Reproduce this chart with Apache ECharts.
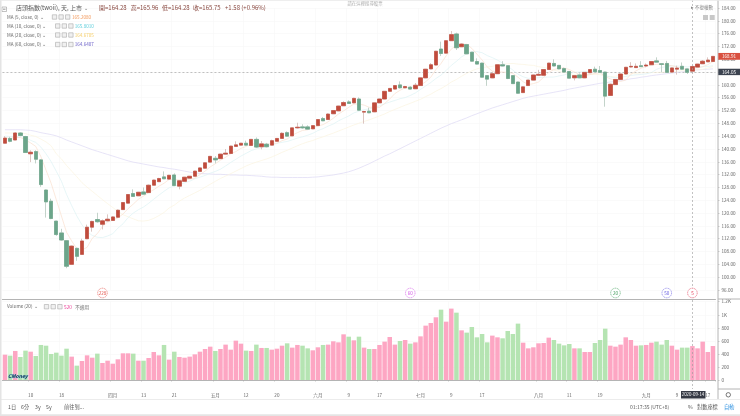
<!DOCTYPE html>
<html><head><meta charset="utf-8">
<script src="https://cdn.jsdelivr.net/npm/echarts@6/dist/echarts.min.js"></script>
<style>html,body{margin:0;padding:0;background:#fff}#c{width:740px;height:416px;filter:blur(0.3px)}</style>
</head><body><div id="c"></div>
<script>
const opens=[141.8,143.3,142.8,145.0,143.9,138.5,139.2,136.6,127.2,123.7,117.5,113.8,111.4,104.0,109.0,107.1,112.0,115.6,118.0,116.5,117.6,117.7,118.7,121.1,123.1,126.1,125.4,126.6,126.4,128.7,129.8,131.3,130.6,131.9,128.4,129.9,130.9,131.5,133.0,134.0,135.9,137.1,137.0,138.4,138.6,140.8,141.2,141.8,141.1,143.0,140.7,141.5,141.2,142.4,143.3,145.1,144.1,146.6,146.9,146.9,146.3,147.3,149.5,149.2,151.0,151.9,153.5,154.7,154.4,155.6,151.5,151.8,151.6,154.4,155.6,158.0,158.7,160.0,159.1,159.3,158.8,159.8,162.2,165.0,166.2,171.2,169.9,173.8,175.9,171.9,172.6,170.2,167.3,166.8,162.9,162.2,163.5,166.3,166.0,162.9,160.9,157.6,159.8,161.5,163.0,163.0,164.8,166.7,166.1,165.1,164.2,162.2,163.1,162.2,163.8,164.9,164.5,164.0,156.7,160.1,161.7,163.4,165.6,165.4,166.0,165.9,166.3,167.5,166.6,166.7,164.0,164.9,165.8,165.0,164.28,165.55,166.6,167.2,167.3];
const closes=[143.4,142.4,145.0,144.2,138.9,139.0,136.8,128.9,123.5,118.3,113.3,111.6,103.4,109.7,106.5,111.3,115.6,117.4,117.3,117.6,118.1,118.8,120.9,123.3,125.8,125.2,126.5,125.9,128.7,130.3,130.8,130.7,131.8,128.6,130.1,131.2,131.5,133.1,134.1,135.7,137.7,136.6,138.4,138.7,140.9,141.3,141.8,141.2,143.0,140.6,141.6,140.7,142.6,143.3,144.9,144.0,146.6,146.8,146.6,146.2,147.3,149.2,148.8,150.9,152.0,153.4,154.5,154.2,155.8,152.1,151.7,151.3,154.4,155.6,158.0,158.9,159.8,159.1,159.5,158.7,159.9,162.2,164.9,166.3,170.5,169.8,173.8,175.7,171.6,172.75,169.7,167.4,166.5,162.4,161.8,163.5,166.3,165.9,162.0,160.4,157.4,159.4,161.5,163.1,163.3,164.8,166.8,165.9,165.0,164.0,162.1,162.9,162.2,163.9,164.8,164.1,163.9,156.5,160.2,161.7,163.4,165.5,165.8,165.8,165.7,166.2,167.3,167.1,166.4,163.9,165.3,165.25,164.9,163.9,165.75,166.5,167.4,167.75,168.9];
const highs=[144.0,143.8,145.3,145.3,144.1,139.6,139.6,136.8,127.3,124.5,117.6,115.1,111.6,109.9,109.2,112.0,116.4,117.6,120.1,118.0,119.6,119.0,121.1,123.4,125.9,127.4,126.6,128.0,128.9,130.4,131.0,133.0,131.9,132.4,130.3,131.3,131.6,133.2,134.2,135.8,137.8,137.8,138.5,140.0,141.0,142.4,141.9,142.6,143.1,143.6,142.5,141.9,142.9,143.4,145.2,145.5,146.7,148.2,147.7,147.4,147.4,149.3,150.0,151.1,152.1,153.5,154.9,155.2,156.0,156.1,151.9,152.9,154.5,155.7,158.1,159.0,159.9,161.1,159.7,159.6,160.6,162.3,165.0,166.8,170.6,173.5,173.9,176.8,176.3,173.0,172.7,170.3,168.3,166.9,163.1,164.1,166.4,167.4,166.1,163.0,161.0,159.6,161.6,163.2,164.7,164.9,166.9,168.0,166.2,165.4,164.3,163.0,163.6,164.0,164.9,165.7,165.9,164.1,160.4,161.8,163.5,165.6,167.1,166.7,167.4,166.7,167.4,168.6,166.7,167.5,165.4,166.0,167.0,165.1,165.96,166.6,167.75,168.6,168.8];
const lows=[141.7,142.1,142.8,144.0,138.8,135.9,135.5,128.2,118.6,118.1,112.9,111.4,102.8,103.9,105.1,107.0,111.9,114.2,117.0,114.9,117.4,117.6,118.6,121.0,123.0,125.1,125.3,125.8,126.3,128.6,129.7,130.6,130.5,128.4,127.4,129.9,130.8,131.4,132.9,133.9,135.8,135.5,136.9,138.3,138.5,140.7,141.1,141.1,141.0,140.3,139.9,140.5,141.1,142.3,143.2,143.8,144.0,146.4,146.3,146.1,146.2,147.2,148.7,149.1,150.9,151.8,153.4,154.1,154.3,151.9,147.9,151.2,151.5,154.3,155.5,157.9,158.6,158.9,159.0,158.6,158.7,159.7,162.1,164.9,166.1,169.0,169.8,173.7,170.9,171.8,169.6,167.3,166.4,162.3,159.7,162.1,163.4,165.8,161.8,160.3,157.3,157.5,159.7,161.4,162.8,162.9,164.7,165.8,164.9,163.9,162.0,161.4,162.1,162.1,163.7,164.0,163.8,153.2,156.6,160.0,161.6,163.3,165.4,165.3,165.6,165.5,166.2,167.0,163.9,163.8,163.9,163.2,164.8,163.4,164.28,165.5,166.5,167.1,167.2];
const volumes=[388,373,445,353,450,434,368,537,526,399,419,373,480,358,220,291,378,342,404,261,296,250,317,409,409,404,296,296,337,429,378,537,312,434,353,342,358,393,434,475,511,445,475,542,465,603,557,450,445,542,491,491,465,480,526,562,496,537,526,485,455,501,537,542,593,577,700,664,608,664,496,475,475,537,588,659,542,598,613,557,577,669,833,874,961,1078,894,1094,1032,761,726,812,654,705,577,680,654,639,751,705,864,572,485,501,562,567,649,613,557,531,552,485,485,429,429,567,613,787,526,511,542,654,613,526,531,537,572,588,542,613,526,465,496,496,520,485,588,429,521];
const ma5=[143.5,143.3,143.6,143.6,142.8,141.9,140.8,137.6,133.4,129.3,124.2,119.1,114.0,111.3,108.9,108.5,109.3,112.1,113.6,115.8,117.2,117.8,118.5,119.7,121.4,122.8,124.3,125.3,126.4,127.3,128.4,129.3,130.5,130.4,130.4,130.5,130.6,130.9,132.0,133.1,134.4,135.4,136.5,137.4,138.5,139.2,140.2,140.8,141.6,141.6,141.6,141.4,141.7,141.8,142.6,143.1,144.3,145.1,145.8,146.0,146.7,147.2,147.6,148.5,149.6,150.9,151.9,153.0,154.0,154.0,153.7,153.0,153.1,153.0,154.2,155.6,157.3,158.3,159.1,159.2,159.4,159.9,161.0,162.4,164.8,166.7,169.1,171.2,172.3,172.7,172.7,171.4,169.6,167.8,165.6,164.3,164.1,164.0,163.9,163.6,162.4,161.0,160.1,160.4,160.9,162.4,163.9,164.8,165.2,165.3,164.8,164.0,163.2,163.0,163.2,163.6,163.8,162.6,161.9,161.3,161.1,161.5,163.3,164.4,165.2,165.8,166.2,166.4,166.5,166.2,166.0,165.6,165.2,164.7,165.2,165.3,165.7,166.3,167.3];
const ma10=[144.0,143.9,143.9,143.8,143.6,142.7,142.05,140.6,138.5,136.05,133.05,129.95,125.8,122.35,119.1,116.35,114.2,113.05,112.45,112.35,112.85,113.55,115.3,116.65,118.6,120.0,121.05,121.9,123.05,124.35,125.6,126.8,127.9,128.4,128.85,129.45,129.95,130.7,131.2,131.75,132.45,133.0,133.7,134.7,135.8,136.8,137.8,138.65,139.5,140.05,140.4,140.8,141.25,141.7,142.1,142.35,142.85,143.4,143.8,144.3,144.9,145.75,146.35,147.15,147.8,148.8,149.55,150.3,151.25,151.8,152.3,152.45,153.05,153.5,154.1,154.65,155.15,155.7,156.05,156.7,157.5,158.6,159.65,160.75,162.0,163.05,164.5,166.1,167.35,168.75,169.7,170.25,170.4,170.05,169.15,168.5,167.75,166.8,165.85,164.6,163.35,162.55,162.05,162.15,162.25,162.4,162.45,162.45,162.8,163.1,163.6,163.95,164.0,164.1,164.25,164.2,163.9,162.9,162.45,162.25,162.35,162.65,162.95,163.15,163.25,163.45,163.85,164.85,165.45,165.7,165.9,165.9,165.8,165.6,165.8,165.65,165.65,165.75,166.0];
const ma20=[145.0,145.0,145.0,145.0,144.8,144.3,143.9,143.1,142.2,141.0,138.5,136.9,134.85,133.1,131.35,129.5,128.1,126.8,125.5,124.2,122.95,121.75,120.55,119.5,118.85,118.2,117.6,117.5,117.75,118.35,119.2,120.2,121.6,122.5,123.7,124.7,125.5,126.3,127.1,128.05,129.0,129.9,130.8,131.55,132.3,133.1,133.9,134.7,135.35,135.9,136.4,136.9,137.5,138.2,138.95,139.6,140.3,141.0,141.65,142.2,142.65,143.3,143.8,144.4,144.95,145.6,146.2,146.85,147.5,148.05,148.6,149.1,149.7,150.3,150.95,151.7,152.35,153.0,153.65,154.25,154.9,155.5,156.35,157.1,158.05,158.85,159.8,160.9,161.7,162.7,163.6,164.4,165.0,165.4,165.6,165.8,166.1,166.45,166.6,166.7,166.5,166.4,166.2,166.1,165.7,165.45,165.1,164.6,164.3,163.85,163.5,163.25,163.0,163.1,163.25,163.3,163.2,162.7,162.6,162.7,163.0,163.3,163.5,163.6,163.75,163.8,163.9,163.9,163.95,164.0,164.1,164.3,164.4,164.4,164.67,164.75,164.85,165.3,165.7];
const ma60=[146.0,146.0,146.0,146.0,145.9,145.8,145.5,145.1,144.8,144.5,144.1,143.5,142.8,142.2,141.6,141.0,140.4,139.8,139.3,138.8,138.3,137.8,137.3,136.8,136.3,135.9,135.6,135.3,135.0,134.7,134.4,134.2,133.9,133.7,133.4,133.1,132.8,132.5,132.4,132.3,132.2,132.1,132.1,132.0,131.9,131.9,131.8,131.8,131.7,131.6,131.5,131.3,131.2,131.2,131.1,131.1,131.1,131.1,131.1,131.1,131.2,131.3,131.5,131.7,131.9,132.2,132.5,132.9,133.4,134.0,134.7,135.4,136.2,137.0,137.8,138.5,139.3,140.1,140.9,141.7,142.5,143.3,144.1,144.9,145.7,146.5,147.2,147.9,148.5,149.1,149.7,150.4,151.0,151.6,152.2,152.8,153.3,153.8,154.3,154.8,155.3,155.8,156.2,156.5,156.8,157.1,157.4,157.7,158.0,158.3,158.7,159.0,159.3,159.6,159.9,160.2,160.5,160.7,160.9,161.1,161.4,161.6,161.9,162.1,162.4,162.6,162.9,163.1,163.3,163.5,163.7,163.9,164.1,164.3,164.6,164.7,164.8,164.9,165.0];
const tickIndex=[5,11,21,27,33,41,47,53,61,67,73,81,87,93,104,110,116,125,131,137];
const tickText=['10','18','四月','13','21','五月','12','20','六月','9','17','七月','9','17','八月','11','19','九月','9','17'];
const categories=closes.map((_,i)=>String(i));
const lastPrice=168.91, crossPrice=164.05, crossIndex=134, crossDate='2020-09-14';
const maNames=['MA (5, close, 0)','MA (10, close, 0)','MA (20, close, 0)','MA (60, close, 0)'];
const maValues=['165.2080','165.8010','164.6705','164.6407'];
const maText=['#f39a5c','#62cfdc','#f6cf6a','#6d62c8'];
const maLine=['#f9dfcf','#dcf2f4','#fbf4e0','#dcd9f3'];
const ohlcLabels=['開','高','低','收'];
const ohlcValues=['164.28','165.96','164.28','165.75'];
const events=[[19,'228','#e4534a'],[79,'60','#d455e6'],[119,'20','#3f9d5a'],[129,'50','#6a60e2'],[134,'5','#e33a55']];
const UP='#c14b3c',DOWN='#6ba58a',VUP='#fda6c3',VDOWN='#b5e4b2';
const chart=echarts.init(document.getElementById('c'),null,{renderer:'canvas'});
const isTick=i=>tickIndex.includes(i);
const tickFmt=(v,i)=>{const k=tickIndex.indexOf(Number(v));return k<0?'':tickText[k];};
const font='"Noto Sans CJK TC","Noto Sans",sans-serif';
function ma(name,data,color){return {name,type:'line',data,xAxisIndex:0,yAxisIndex:0,showSymbol:false,symbol:'none',smooth:false,silent:true,lineStyle:{color,width:0.7},z:1};}
chart.setOption({
 animation:false,backgroundColor:'#fff',
 textStyle:{fontFamily:font},
 grid:[{left:2.43,right:24.5,top:8,height:282},{left:2.43,right:24.5,top:301.7,height:78.3}],
 xAxis:[
  {type:'category',gridIndex:0,data:categories,offset:9,axisLine:{lineStyle:{color:'#b4b4b4',width:1}},axisTick:{show:false},axisLabel:{show:false},splitLine:{show:true,interval:isTick,lineStyle:{color:'#f6f6f6',width:0.6}}},
  {type:'category',gridIndex:1,data:categories,offset:9,axisLine:{lineStyle:{color:'#b4b4b4',width:1}},axisTick:{show:true,interval:isTick,length:1.5,lineStyle:{color:'#aaa',width:0.6}},axisLabel:{interval:isTick,formatter:tickFmt,fontSize:4.6,color:'#666',margin:3.5},splitLine:{show:true,interval:isTick,lineStyle:{color:'#f6f6f6',width:0.6}}}
 ],
 yAxis:[
  {type:'value',gridIndex:0,position:'right',min:96,max:184,interval:4,offset:2.5,scale:true,axisLine:{show:false},axisTick:{show:true,length:1.5,lineStyle:{color:'#aaa',width:0.6}},axisLabel:{fontSize:4.6,color:'#666',margin:3.5,formatter:v=>v.toFixed(2)},splitLine:{show:true,lineStyle:{color:'#f7f7f7',width:0.6}}},
  {type:'value',gridIndex:1,position:'right',min:0,max:1200,interval:200,offset:2.5,axisLine:{show:false},axisTick:{show:true,length:1.5,lineStyle:{color:'#aaa',width:0.6}},axisLabel:{fontSize:4.6,color:'#666',margin:3.5,formatter:v=>v>=1000?(v/1000)+'K':String(v)},splitLine:{show:true,lineStyle:{color:'#f7f7f7',width:0.6}}}
 ],
 series:[
  ma('MA60',ma60,maLine[3]),ma('MA20',ma20,maLine[2]),ma('MA10',ma10,maLine[1]),ma('MA5',ma5,maLine[0]),
  {name:'wick',type:'candlestick',xAxisIndex:0,yAxisIndex:0,barWidth:3.9,silent:true,z:2,
   itemStyle:{color:'#ddd',color0:'#ddd',borderColor:'#dcc6c2',borderColor0:'#c3d3ca',borderWidth:1},
   data:closes.map((c,i)=>[opens[i],c,lows[i],highs[i]]),
   markLine:{silent:true,symbol:'none',animation:false,label:{show:false},lineStyle:{color:'#9a9a9a',type:[2,2],width:0.6},data:[{yAxis:crossPrice}],z:1}},
  {name:'店頭指數',type:'candlestick',xAxisIndex:0,yAxisIndex:0,barWidth:3.9,silent:true,z:3,
   itemStyle:{color:UP,color0:DOWN,borderColor:UP,borderColor0:DOWN,borderWidth:0.6},
   data:closes.map((c,i)=>[opens[i],c,Math.min(opens[i],c),Math.max(opens[i],c)])},
  {name:'Volume',type:'bar',xAxisIndex:1,yAxisIndex:1,barWidth:4.5,silent:true,
   data:volumes.map((v,i)=>({value:v,itemStyle:{color:closes[i]>=opens[i]?VUP:VDOWN}}))}
 ]
});
function T(x,y,text,size,fill,extra){return Object.assign({type:'text',z:110,silent:true,style:Object.assign({x,y,text,fontSize:size,fill,fontFamily:font,textVerticalAlign:'middle',verticalAlign:'middle'},extra||{})},{});}
function R(x,y,w,h,fill,stroke,z){return {type:'rect',z:z||105,silent:true,shape:{x,y,width:w,height:h},style:{fill:fill||'none',stroke:stroke||null,lineWidth:0.6}};}
function L(x1,y1,x2,y2,stroke,dash){return {type:'line',z:104,silent:true,shape:{x1,y1,x2,y2},style:{stroke,lineWidth:dash?0.6:1,lineDash:dash||null}};}
function icons(x,y,step){const a=[];for(let k=0;k<3;k++){a.push(R(x+k*step,y-2.2,4.4,4.4,'#f0f0f0','#aaa'));}return a;}
const px=chart.convertToPixel({xAxisIndex:0},String(crossIndex));
const yLast=chart.convertToPixel({yAxisIndex:0},lastPrice);
const yCross=chart.convertToPixel({yAxisIndex:0},crossPrice);
const g=[];
g.push(R(0,0,1.5,416,'#e4e4e4',null,120),R(0,414.2,740,2,'#e4e4e4',null,120),R(0,0,740,0.8,'#e8e8e8',null,120));
g.push(L(718,0,718,399,'#b4b4b4'),L(0,399.5,740,399.5,'#ececec'),L(718,299,740,299,'#b4b4b4'),L(718,389,740,389,'#b4b4b4'));
g.push(L(px,0,px,389,'#9a9a9a',[2,2]));
g.push(R(2,7,4.5,4.5,'none','#999'),L(3,9.2,5.5,9.2,'#999'));
g.push(T(16,7.6,'店頭指數(twoii), 天, 上市',6,'#555'),T(84,7.6,'⌄',5,'#666'));
[99,130.7,162,193].forEach((x,k)=>{g.push(T(x,7.6,ohlcLabels[k]+'='+ohlcValues[k],6,'#8a4a42'));});
g.push(T(225,7.6,'+1.58 (+0.96%)',6,'#8a4a42'));
const rowY=[17,26,35,44.5],iconX=[52.3,55.5,55.5,55.5],valX=[72,74.7,74.7,74.7];
maNames.forEach((n,k)=>{g.push(T(7,rowY[k],n+' ⌄',4.6,'#666'));g.push(...icons(iconX[k],rowY[k],6.6));g.push(T(valX[k],rowY[k],maValues[k],4.6,maText[k]));});
g.push(T(7,306.7,'Volume (20) ⌄',4.6,'#666'));g.push(...icons(44.3,306.7,6.7));
g.push(T(64,306.7,'520',4.8,'#ea3f96'),T(75,306.7,'不適用',4.8,'#777'));
events.forEach(e=>{const x=chart.convertToPixel({xAxisIndex:0},String(e[0]));g.push({type:'circle',z:106,silent:true,shape:{cx:x,cy:293,r:4.8},style:{fill:'#fff',stroke:e[2],lineWidth:0.6,lineDash:[1.2,0.6]}});g.push(T(x,293,e[1],4.6,e[2],{align:'center',textAlign:'center'}));});
g.push(T(702,7,'▸ 不復權數',4.6,'#888',{align:'center',textAlign:'center'}));
g.push(R(703,15,5,5,'#c8c8c8',null),R(709.7,15,5,5,'#c8c8c8',null));
g.push(T(365,3.6,'請在這裡搜尋股票',4.4,'#b0b0b0',{align:'center',textAlign:'center'}));
g.push(R(718.3,yLast-3.4,21.7,6.8,'#d9503f',null,108),T(729,yLast,lastPrice.toFixed(2),4.6,'#fff',{align:'center',textAlign:'center'}));
g.push(R(718.3,yCross-3.2,21.7,6.4,'#3c4350',null,108),T(729,yCross,crossPrice.toFixed(2),4.6,'#fff',{align:'center',textAlign:'center'}));
g.push(R(681,391,24.5,7.5,'#363a45',null,108),T(693,394.8,crossDate,4.4,'#fff',{align:'center',textAlign:'center'}));
g.push({type:'circle',z:106,silent:true,shape:{cx:728.3,cy:394.8,r:2.2},style:{fill:'#fff',stroke:'#555',lineWidth:0.8}});
g.push(T(8,375.6,'CMoney',5,'#12304a',{fontStyle:'italic',fontWeight:'bold',stroke:'#7cc8ea',lineWidth:0.4}));
[[8,'1日'],[21,'6分'],[35,'3y'],[46,'5y'],[64,'前往到...']].forEach(a=>g.push(T(a[0],407.2,a[1],5.2,'#555')));
g.push(T(630,407.2,'01:17:35 (UTC+8)',5,'#555'),T(688,407.2,'%',5.2,'#555'),T(697,407.2,'對數座標',5.2,'#555'),T(724,407.2,'自動',5.2,'#2a8fe0'));
chart.setOption({graphic:g});
</script></body></html>
